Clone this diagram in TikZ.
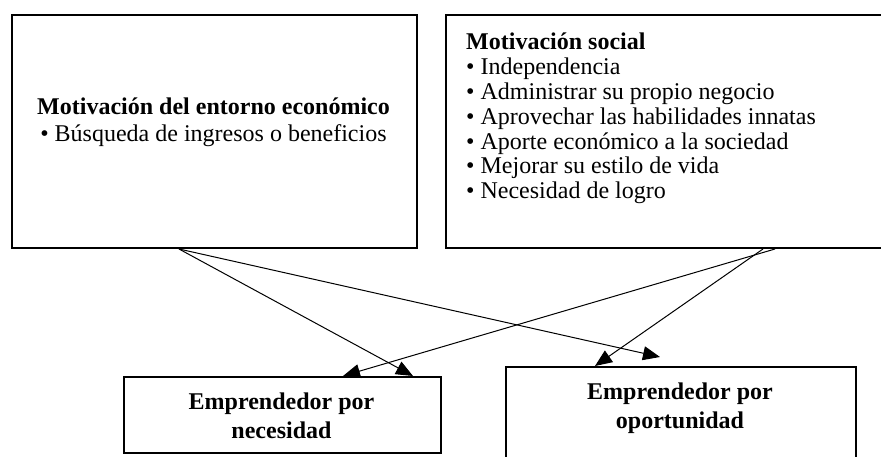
\documentclass[tikz,border=0pt]{standalone}
\usepackage{fontspec}
\setmainfont{Liberation Serif}
\usetikzlibrary{arrows.meta,calc}
\begin{document}
\begin{tikzpicture}[x=1pt,y=-1pt,
  box/.style={draw,line width=2pt,inner sep=0pt,anchor=north west},
  txt/.style={font=\fontsize{24}{24.8}\selectfont,inner sep=0pt},
  conn/.style={line width=1pt,-{Triangle[length=17pt,width=14pt]}}]
\useasboundingbox (0,0) rectangle (881,457);
\clip (0,0) rectangle (881,457);
\node[box,minimum width=405pt,minimum height=233pt] (econ) at (11,14) {};
\node[box,minimum width=450pt,minimum height=233pt] (social) at (445,14) {};
\node[box,minimum width=317pt,minimum height=76pt] (nec) at (123,376) {};
\node[box,minimum width=350pt,minimum height=110pt] (opo) at (505,366) {};
\node[txt,align=center,anchor=base] (econtxt) at (213.5,142)
  {\textbf{Motivación del entorno económico}\\[3pt]• Búsqueda de ingresos o beneficios};
\node[txt,align=left,anchor=base west] (soctxt) at (466,198.8)
  {\textbf{Motivación social}\\• Independencia\\• Administrar su propio negocio\\• Aprovechar las habilidades innatas\\• Aporte económico a la sociedad\\• Mejorar su estilo de vida\\• Necesidad de logro};
\node[txt,align=center,anchor=base] (nectxt) at (281.5,438)
  {\bfseries Emprendedor por\\[4pt]\bfseries necesidad};
\node[txt,align=center,anchor=base] (opotxt) at (680,428)
  {\bfseries Emprendedor por\\[4pt]\bfseries oportunidad};
\coordinate (e1) at ($(econ.south west)+(168,0)$);
\coordinate (s1) at ($(social.south west)+(318,0)$);
\coordinate (s2) at ($(social.south west)+(330,0)$);
\coordinate (n1) at ($(nec.north west)+(220,0)$);
\coordinate (n2) at ($(nec.north west)+(290,0)$);
\coordinate (o1) at ($(opo.north west)+(90,0)$);
\coordinate (o2) at ($(opo.north west)+(155,-9)$);
\draw[conn] (e1) -- (n2);
\draw[conn] (e1) -- (o2);
\draw[conn] (s2) -- (n1);
\draw[conn] (s1) -- (o1);
\end{tikzpicture}
\end{document}
